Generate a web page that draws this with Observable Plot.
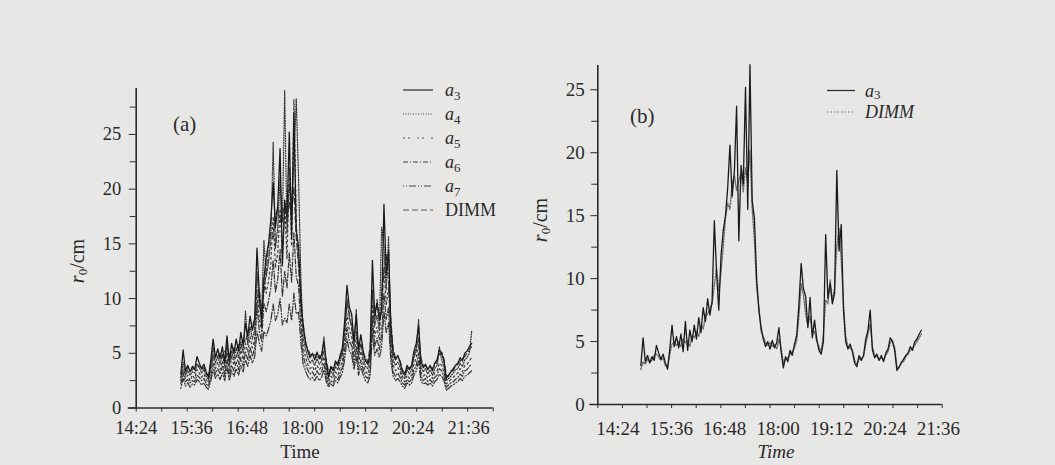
<!DOCTYPE html>
<html><head><meta charset="utf-8">
<script src="https://cdn.jsdelivr.net/npm/d3@7"></script>
<script src="https://cdn.jsdelivr.net/npm/@observablehq/plot@0.6"></script>
<style>
body{margin:0;background:#e7e7e5;}
#wrap{position:relative;width:1055px;height:465px;overflow:hidden;background:#e7e7e5;font-family:"Liberation Serif","Times New Roman",serif;color:#2a2a2a;}
.panel{position:absolute;top:0;}
.lbl{position:absolute;white-space:nowrap;line-height:1;}
.rot{transform:translate(-50%,-50%) rotate(-90deg);}
</style></head><body><div id="wrap"></div>
<script>
// sampling: every 3 minutes starting 15:22
const startMin = 922, stepMin = 3;
const a3 = [3.1,5.3,3.4,3.9,3.3,3.8,3.5,4.7,4.1,3.6, 4.0,3.3,2.8,4.4,6.3,4.6,5.4,4.5,5.6,4.2, 6.6,4.3,5.9,5.0,6.3,5.2,6.9,5.7,7.7,6.6, 8.4,7.1,8.2,14.6,10.5,7.5,11.8,13.8,15.0,17.2, 20.6,16.5,18.5,23.7,13.0,19.0,17.5,25.2,15.5,27.0, 16.2,14.8,10.0,7.5,6.1,5.2,4.6,5.0,4.4,5.1, 4.5,4.9,6.1,4.2,2.9,3.8,3.4,4.3,3.9,4.8, 5.5,8.0,11.2,9.2,8.6,6.1,8.5,5.3,6.7,5.2, 4.3,4.0,5.0,13.5,8.4,9.6,8.0,8.8,18.6,12.2, 14.3,7.5,5.0,4.4,4.8,4.2,3.3,3.0,3.9,3.5, 3.9,5.2,5.9,7.5,4.3,3.7,4.0,3.5,3.9,3.4, 4.1,4.4,5.3,5.0,4.3,2.7,3.0,3.3,3.6,3.9, 4.1,4.6,4.3,5.0,5.2,5.6,5.9];
const a4 = [2.8,4.2,3.0,3.4,3.0,3.3,3.2,3.9,3.7,3.2, 3.5,2.9,2.6,3.8,5.6,4.1,4.7,4.0,4.9,3.8, 5.9,3.9,5.2,4.4,5.5,4.6,6.1,5.0,8.9,5.8, 7.4,6.3,7.2,12.5,9.4,8.5,15.3,12.0,13.3,15.4, 24.3,14.6,16.5,21.0,17.0,29.0,16.0,20.5,18.6,22.5, 28.3,21.0,12.0,6.5,5.4,4.6,4.1,4.4,3.9,4.5, 4.0,4.3,6.5,3.7,2.7,3.4,3.0,3.8,3.5,4.3, 4.9,7.2,10.0,8.2,7.6,5.4,9.0,4.7,5.9,4.6, 3.8,3.6,4.5,10.8,7.5,8.5,7.1,16.5,14.8,10.8, 15.7,6.7,4.4,3.9,4.2,3.7,2.9,2.7,3.5,3.1, 3.5,4.6,5.2,8.1,3.8,3.3,3.6,3.1,3.5,3.0, 3.6,3.9,5.6,4.4,3.8,2.5,2.7,2.9,3.2,3.5, 3.6,4.1,3.8,4.4,4.6,5.0,7.0];
const a5 = [2.5,3.6,2.7,3.0,2.5,3.0,2.7,3.5,3.2,2.8, 3.1,2.6,2.3,3.3,4.8,3.6,4.2,3.5,4.3,3.3, 5.0,3.4,4.6,3.9,4.9,4.0,5.3,4.4,5.9,5.1, 6.5,5.5,6.3,10.8,8.1,7.0,11.9,10.5,11.6,13.2, 17.5,12.8,14.2,18.2,14.0,18.5,13.6,22.0,14.8,28.2, 16.8,13.5,9.2,5.6,4.7,4.0,3.6,3.8,3.4,3.9, 3.5,3.8,4.7,3.3,2.4,2.9,2.7,3.3,3.0,3.7, 4.3,6.2,8.6,7.1,6.6,4.7,6.5,4.1,5.2,4.0, 3.3,3.1,3.9,9.5,6.5,7.4,6.2,10.5,12.8,9.4, 11.0,5.8,3.9,3.4,3.7,3.3,2.6,2.4,3.0,2.7, 3.0,4.0,4.6,5.8,3.3,2.9,3.1,2.7,3.0,2.7, 3.2,3.4,4.1,3.9,3.3,2.2,2.4,2.6,2.8,3.0, 3.2,3.6,3.3,3.9,4.0,4.3,4.6];
const a6 = [2.2,3.2,2.4,2.6,2.3,2.5,2.4,3.0,2.8,2.5, 2.7,2.2,2.0,2.9,4.1,3.1,3.6,3.1,3.8,2.9, 4.4,2.9,3.9,3.4,4.2,3.5,4.6,3.8,5.1,4.4, 5.6,4.7,5.5,9.4,7.0,6.1,9.6,8.8,9.8,11.0, 13.5,10.6,11.8,14.5,10.2,12.5,11.0,14.2,11.5,16.0, 12.0,11.2,7.5,4.8,4.0,3.5,3.1,3.3,2.9,3.4, 3.0,3.3,4.1,2.8,2.1,2.5,2.3,2.9,2.6,3.2, 3.7,5.3,7.4,6.1,5.7,4.0,5.6,3.5,4.4,3.5, 2.9,2.7,3.3,8.0,5.6,6.4,5.3,6.8,10.5,8.1, 9.2,5.0,3.3,2.9,3.2,2.8,2.3,2.1,2.6,2.4, 2.6,3.5,3.9,5.0,2.9,2.5,2.7,2.4,2.6,2.3, 2.8,3.0,3.6,3.4,2.9,1.9,2.1,2.3,2.4,2.6, 2.8,3.1,2.9,3.4,3.5,3.8,4.0];
const a7 = [1.8,2.7,2.0,2.3,1.9,2.2,2.1,2.6,2.4,2.1, 2.3,1.9,1.7,2.5,3.5,2.7,3.1,2.6,3.2,2.5, 3.7,2.5,3.4,2.9,3.6,3.0,3.9,3.3,4.4,3.8, 4.8,4.1,4.7,7.0,6.0,5.2,7.0,6.6,7.2,8.0, 9.5,8.0,8.6,10.0,7.6,8.2,7.8,9.5,8.0,10.5, 8.6,8.8,6.0,4.0,3.4,2.9,2.6,2.8,2.5,2.9, 2.5,2.8,3.5,2.4,1.9,2.2,2.0,2.5,2.3,2.8, 3.2,4.5,6.3,5.2,4.9,3.5,4.8,3.0,3.8,3.0, 2.5,2.3,2.9,6.8,4.8,5.4,4.6,5.6,8.8,6.9, 7.8,4.3,2.9,2.5,2.7,2.4,2.0,1.8,2.3,2.1, 2.3,3.0,3.4,4.3,2.5,2.2,2.3,2.1,2.3,2.0, 2.4,2.6,3.1,2.9,2.5,1.6,1.8,2.0,2.1,2.3, 2.4,2.7,2.5,2.9,3.0,3.2,3.4];
const dimm = [2.8,3.4,3.2,3.6,3.4,3.5,3.9,4.0,3.8,3.5, 3.7,3.1,3.0,4.0,4.8,4.9,4.7,5.0,4.6,5.2, 4.9,5.1,4.6,5.5,5.3,5.8,5.4,6.3,6.0,7.0, 7.2,7.6,8.0,9.5,10.8,9.0,10.5,12.5,14.8,16.0, 15.5,17.6,18.2,17.0,17.8,18.4,16.9,18.8,17.6,20.2, 15.6,13.0,9.3,7.8,5.8,5.4,4.9,4.7,4.9,4.6, 4.8,4.4,5.2,4.4,3.3,3.6,3.7,4.0,4.2,4.5, 5.1,7.0,9.6,8.7,7.2,6.3,7.0,5.6,5.8,5.0, 4.6,4.2,5.6,8.3,8.0,9.9,8.3,9.2,12.5,14.0, 11.5,8.0,5.4,4.6,4.5,4.3,3.5,3.2,3.6,3.7, 3.8,4.8,5.6,6.4,4.6,3.9,3.8,3.6,3.7,3.6, 3.9,4.2,4.9,5.1,4.5,3.0,2.9,3.4,3.4,3.8, 4.0,4.3,4.5,4.7,5.0,5.3,5.6];

const xLabels = ["14:24","15:36","16:48","18:00","19:12","20:24","21:36"];
const yMajor = [0,5,10,15,20,25];
const yMinor = [2.5,7.5,12.5,17.5,22.5,27.5];
const xDomain = [864, 1328]; // 14:24 .. axis end (14 minor intervals)

const toMin = s => { const [h,m] = s.split(":").map(Number); return h*60+m; };
const fmt = m => `${Math.floor(m/60)}:${String(m%60).padStart(2,"0")}`;
const labelMins = xLabels.map(toMin);
const xMinor = d3.range(15).map(k => xDomain[0] + k*(xDomain[1]-xDomain[0])/14);
const times = a3.map((_, i) => startMin + i*stepMin);
const rows = vals => vals.map((v, i) => ({t: times[i], v}));

function axes(o) {
  return [
    Plot.ruleY([0], {insetLeft: -8, strokeWidth: 1.6}),
    Plot.ruleX([xDomain[0]], {strokeWidth: 1.6}),
    Plot.axisY({ticks: yMajor, tickSize: 7, tickPadding: o.yPad, fontSize: o.fs, label: null, tickFormat: d => d}),
    Plot.axisY({ticks: yMinor.filter(d => d < o.yMax), tickSize: 6, tickFormat: () => "", label: null}),
    Plot.axisX({ticks: xMinor, tickSize: 4, tickFormat: () => "", label: null}),
    Plot.axisX({ticks: labelMins, tickSize: 0, tickPadding: o.xPad, fontSize: o.fs, tickFormat: fmt, label: null, dx: o.dx})
  ];
}
const style = {fontFamily: "Liberation Serif, Times New Roman, serif", color: "#2a2a2a", background: "transparent", overflow: "visible"};

const seriesA = [
  {vals: a7, dash: "1,2,1,2,7,2", stroke: "#333"},
  {vals: a6, dash: "5,2,1,2", stroke: "#333"},
  {vals: a5, dash: "2,3", stroke: "#3a3a3a"},
  {vals: a4, dash: "1,1.5", stroke: "#2e2e2e"},
  {vals: dimm, dash: "6,3", stroke: "#3a3a3a"},
  {vals: a3, dash: null, stroke: "#1a1a1a"}
];

const yMaxA = 29.2;
const plotA = Plot.plot({
  width: 527, height: 465,
  marginLeft: 135.7, marginRight: 34.3, marginTop: 88, marginBottom: 57.5,
  x: {domain: xDomain}, y: {domain: [0, yMaxA]},
  style,
  marks: [
    ...seriesA.map(s => Plot.line(rows(s.vals), {x: "t", y: "v", stroke: s.stroke, strokeWidth: s.dash ? 1.2 : 1.3, strokeDasharray: s.dash})),
    ...axes({yPad: 8, xPad: 13, fs: 18.5, dx: 0, yMax: yMaxA})
  ]
});

const yMaxB = 26.93;
const plotB = Plot.plot({
  width: 528, height: 465,
  marginLeft: 70.3, marginRight: 113.3, marginTop: 65, marginBottom: 61,
  x: {domain: xDomain}, y: {domain: [0, yMaxB]},
  style,
  marks: [
    Plot.line(rows(dimm), {x: "t", y: "v", stroke: "#6a6a6a", strokeWidth: 1.4, strokeDasharray: "1.5,1.5"}),
    Plot.line(rows(a3), {x: "t", y: "v", stroke: "#1a1a1a", strokeWidth: 1.3}),
    ...axes({yPad: 6, xPad: 17, fs: 19, dx: 20, yMax: yMaxB})
  ]
});

const wrap = document.getElementById("wrap");
const pa = document.createElement("div"); pa.className = "panel"; pa.style.left = "0px"; pa.appendChild(plotA); wrap.appendChild(pa);
const pb = document.createElement("div"); pb.className = "panel"; pb.style.left = "527px"; pb.appendChild(plotB); wrap.appendChild(pb);

function addLabel(html, x, y, css) {
  const d = document.createElement("div");
  d.className = "lbl";
  d.innerHTML = html;
  d.style.left = x + "px"; d.style.top = y + "px";
  Object.assign(d.style, css || {});
  wrap.appendChild(d);
  return d;
}
// panel tags
addLabel("(a)", 173, 114, {fontSize: "21px"});
addLabel("(b)", 630, 106, {fontSize: "21px"});
// axis titles
addLabel("Time", 300, 451, {fontSize: "19px", transform: "translate(-50%,-50%)"});
addLabel("Time", 776, 451, {fontSize: "19px", fontStyle: "italic", transform: "translate(-50%,-50%)"});
const yTitle = '<i>r</i><sub style="font-size:13px;vertical-align:-3px">0</sub>/cm';
addLabel(yTitle, 78, 261, {fontSize: "20px"}).classList.add("rot");
addLabel(yTitle, 541, 220, {fontSize: "20px"}).classList.add("rot");

// legends
const NS = "http://www.w3.org/2000/svg";
function legend(entries, x0, x1, tx, ys, fs, italicDimm, subDy) {
  const svg = document.createElementNS(NS, "svg");
  svg.setAttribute("width", 1055); svg.setAttribute("height", 465);
  svg.style.position = "absolute"; svg.style.left = "0"; svg.style.top = "0";
  svg.style.fontFamily = "Liberation Serif, Times New Roman, serif";
  entries.forEach((e, i) => {
    const y = ys[i];
    const ln = document.createElementNS(NS, "line");
    ln.setAttribute("x1", x0); ln.setAttribute("x2", x1); ln.setAttribute("y1", y); ln.setAttribute("y2", y);
    ln.setAttribute("stroke", e.stroke); ln.setAttribute("stroke-width", e.w || 1.2);
    if (e.dash) ln.setAttribute("stroke-dasharray", e.dash);
    svg.appendChild(ln);
    const t = document.createElementNS(NS, "text");
    t.setAttribute("x", tx); t.setAttribute("y", y + 6);
    t.setAttribute("font-size", fs); t.setAttribute("fill", "#2a2a2a");
    if (e.sub) {
      const s1 = document.createElementNS(NS, "tspan"); s1.setAttribute("font-style", "italic"); s1.textContent = e.name; t.appendChild(s1);
      const s2 = document.createElementNS(NS, "tspan"); s2.setAttribute("dy", subDy); s2.setAttribute("font-size", fs * 0.72); s2.textContent = e.sub; t.appendChild(s2);
    } else {
      t.textContent = e.name;
      if (italicDimm) t.setAttribute("font-style", "italic");
    }
    svg.appendChild(t);
  });
  wrap.appendChild(svg);
}
legend([
  {name: "a", sub: "3", stroke: "#2a2a2a", dash: null},
  {name: "a", sub: "4", stroke: "#444", dash: "1,1.5"},
  {name: "a", sub: "5", stroke: "#555", dash: "2,3,2,7"},
  {name: "a", sub: "6", stroke: "#444", dash: "5,2,1,2"},
  {name: "a", sub: "7", stroke: "#444", dash: "1,2,1,2,7,2"},
  {name: "DIMM", stroke: "#555", dash: "6,3"}
], 403, 433, 445, [90, 114, 138, 162, 186, 210], 18, false, 4);
legend([
  {name: "a", sub: "3", stroke: "#2a2a2a", dash: null},
  {name: "DIMM", stroke: "#777", dash: "1.5,2"}
], 827, 855, 865, [90.5, 112], 18, true, 2);
</script>
</body></html>
